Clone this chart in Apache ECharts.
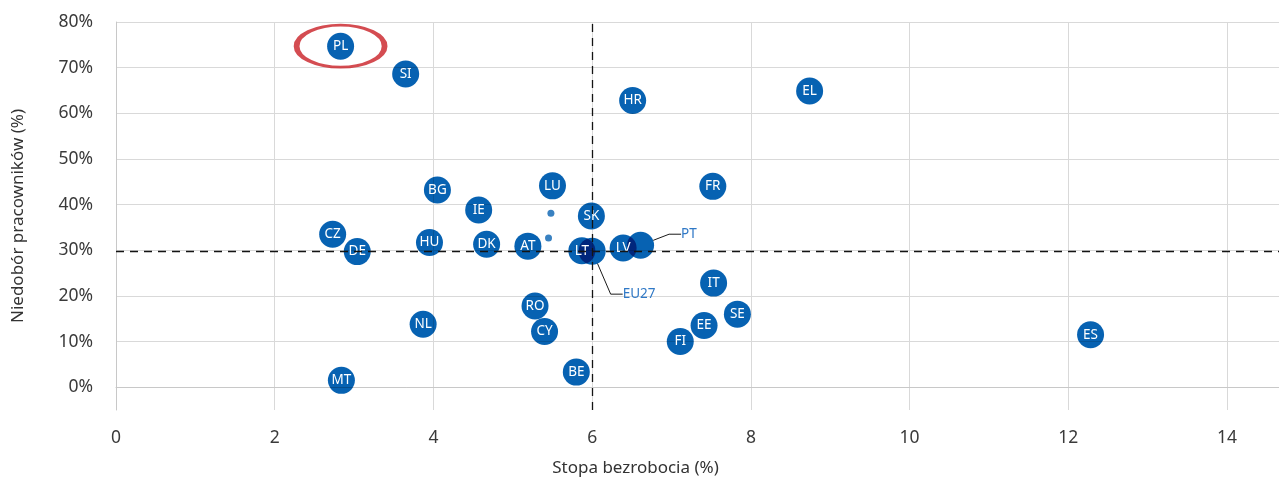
<!DOCTYPE html>
<html><head><meta charset="utf-8">
<script src="https://cdn.jsdelivr.net/npm/echarts@6/dist/echarts.min.js"></script>
<style>html,body{margin:0;padding:0;background:#fff;overflow:hidden;width:100%;height:100%}#c{width:100vw;height:100vh}</style>
</head><body><div id="c"></div>
<script>
// ---- data ----
const countries    = ['PL','SI','HR','EL','LU','FR','BG','IE','SK','CZ','HU','DK','AT','DE','LT','EU27','LV','PT','IT','RO','SE','NL','EE','CY','ES','FI','BE','MT'];
const unemployment = [2.83,3.65,6.51,8.74,5.50,7.52,4.05,4.57,5.99,2.73,3.95,4.67,5.19,3.04,5.87,6.0,6.39,6.61,7.53,5.28,7.83,3.87,7.41,5.40,12.28,7.11,5.80,2.84];
const shortage     = [74.7,68.6,62.8,64.9,44.1,44.0,43.2,38.8,37.5,33.5,31.7,31.3,30.9,29.7,29.9,29.8,30.5,31.1,22.8,17.8,16.0,13.8,13.5,12.2,11.5,10.0,3.3,1.5];
const smallDotsX   = [5.48,5.45];
const smallDotsY   = [38.1,32.7];
const xTicks = [0,2,4,6,8,10,12,14];
const yTicks = [0,10,20,30,40,50,60,70,80];
const highlighted = 'PL';
const refPoint = 'EU27';
const outsideLabels = ['EU27','PT'];
const xName = 'Stopa bezrobocia (%)';
const yName = 'Niedobór pracowników (%)';

// ---- chart ----
const FONT = 'Noto Sans';
const BLUE = '#0762b2';
const refIdx = countries.indexOf(refPoint);
const hiIdx = countries.indexOf(highlighted);

const bubbleData = countries.map((c, i) => {
  const d = { name: c, value: [unemployment[i], shortage[i]] };
  if (outsideLabels.includes(c)) {
    d.label = { position: 'right', distance: 0, color: '#2f78c6', padding: [2, 4, 2, 6] };
    d.labelLine = { show: true, length2: 12, lineStyle: { color: '#1a1a1a', width: 1 } };
  }
  return d;
});

const layoutOffsets = { EU27: { dx: 11, dy: 43 }, PT: { dx: 21, dy: -11 } };

const chart = echarts.init(document.getElementById('c'), null, { renderer: 'canvas' });
chart.setOption({
  animation: false,
  backgroundColor: '#fff',
  textStyle: { fontFamily: FONT },
  grid: { left: 116, right: -6, top: 22, bottom: 69, containLabel: false, outerBoundsMode: 'none' },
  xAxis: {
    type: 'value', min: 0, max: 14.73, interval: 2,
    name: xName, nameLocation: 'middle', nameGap: 50,
    nameTextStyle: { fontSize: 17, color: '#333', fontFamily: FONT, padding: [0, 130, 0, 0] },
    axisLine: { show: true, lineStyle: { color: '#c8c8c8', width: 1 } },
    axisTick: { show: false },
    axisLabel: { margin: 19, fontSize: 17.5, color: '#3a3a3a', fontFamily: FONT,
      formatter: v => xTicks.includes(v) ? String(v) : '' },
    splitLine: { show: true, showMaxLine: false, lineStyle: { color: '#d9d9d9', width: 1 } }
  },
  yAxis: {
    type: 'value', min: -5, max: 80, interval: 5,
    name: yName, nameLocation: 'middle', nameGap: 89, nameRotate: 90,
    nameTextStyle: { fontSize: 17, color: '#333', fontFamily: FONT },
    axisLine: { show: true, lineStyle: { color: '#c8c8c8', width: 1 } },
    axisTick: { show: false },
    axisLabel: { margin: 23, fontSize: 17.5, color: '#3a3a3a', fontFamily: FONT,
      formatter: v => yTicks.includes(v) ? v + '%' : '' },
    splitLine: { show: true, lineStyle: { color: ['rgba(0,0,0,0)', '#d9d9d9'], width: 1 } }
  },
  series: [
    {
      type: 'scatter',
      name: 'countries',
      symbol: 'circle',
      symbolSize: 27,
      blendMode: 'multiply',
      itemStyle: { color: BLUE, opacity: 1 },
      label: { show: true, position: 'inside', color: '#fff', fontSize: 13.5, fontFamily: FONT,
        formatter: p => p.name },
      labelLayout: p => {
        const n = countries[p.dataIndex];
        return layoutOffsets[n] || {};
      },
      data: bubbleData,
      z: 3
    },
    {
      type: 'scatter',
      name: 'dots',
      symbol: 'circle',
      symbolSize: 7,
      itemStyle: { color: BLUE },
      data: smallDotsX.map((x, i) => [x, smallDotsY[i]]),
      z: 3
    },
    {
      type: 'scatter',
      name: 'highlight',
      symbol: 'circle',
      symbolSize: [88, 42],
      itemStyle: { color: 'rgba(0,0,0,0)', borderColor: '#c91f26', borderWidth: 4 },
      data: [[unemployment[hiIdx], shortage[hiIdx]]],
      silent: true,
      z: 4
    },
    {
      type: 'scatter',
      name: 'ref',
      data: [],
      z: 6,
      markLine: {
        silent: true,
        symbol: ['none', 'none'],
        label: { show: false },
        lineStyle: { color: '#141414', width: 1.3, type: [8, 6] },
        data: [
          { xAxis: unemployment[refIdx] },
          { yAxis: shortage[refIdx] }
        ],
        z: 6
      }
    }
  ]
});
window.addEventListener('resize', () => chart.resize());
</script>
</body></html>
